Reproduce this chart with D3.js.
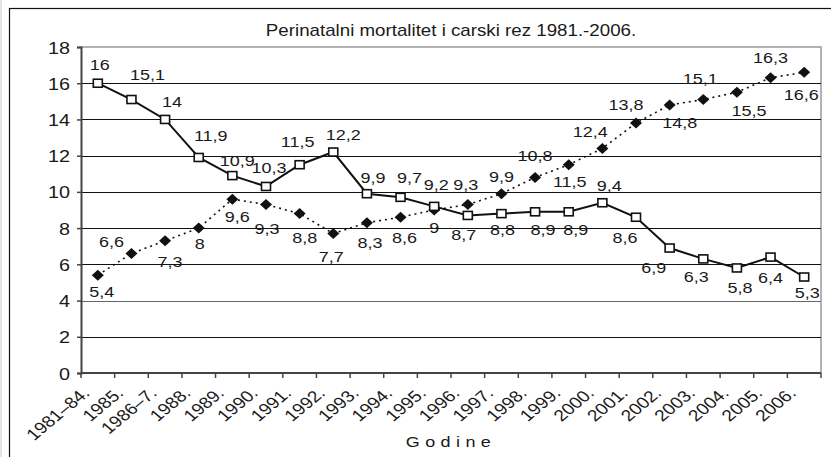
<!DOCTYPE html>
<html>
<head>
<meta charset="utf-8">
<script src="https://cdn.jsdelivr.net/npm/d3@7"></script>
<style>
  body { margin: 0; background: #fff; }
  text { font-family: "Liberation Sans", Arial, sans-serif; fill: #1a1a1a; }
</style>
</head>
<body>
<script>
// categories (years) and the two series
const godine = ["1981\u201384.", "1985.", "1986\u20137.", "1988.", "1989.", "1990.", "1991.", "1992.",
    "1993.", "1994.", "1995.", "1996.", "1997.", "1998.", "1999.", "2000.", "2001.", "2002.",
    "2003.", "2004.", "2005.", "2006."];
const perinatalni = [16, 15.1, 14, 11.9, 10.9, 10.3, 11.5, 12.2, 9.9, 9.7, 9.2, 8.7, 8.8, 8.9, 8.9,
    9.4, 8.6, 6.9, 6.3, 5.8, 6.4, 5.3];
const carskiRez = [5.4, 6.6, 7.3, 8, 9.6, 9.3, 8.8, 7.7, 8.3, 8.6, 9, 9.3, 9.9, 10.8, 11.5, 12.4,
    13.8, 14.8, 15.1, 15.5, 16.3, 16.6];
const yTicks = [0, 2, 4, 6, 8, 10, 12, 14, 16, 18];

// where each value label sits relative to its marker (centre dx, baseline dy)
const lab1Dx = [2, 16, 7, 12, 5, 3, -2, 10, 6, 9, 2, -4, 1, 8, 7, 7, -11, -16, -7, 3, 0, 3];
const lab1Dy = [-13, -20, -12, -16, -10, -13, -18, -12, -11, -14, -16, 25, 21, 23, 23, -12, 26, 25, 23, 25, 26, 21];
const lab2Dx = [4, -20, 5, 1, 5, 1, 5, -2, 3, 4, 0, -2, 0, 0, 1, -12, -10, 10, -3, 12, 0, -3];
const lab2Dy = [22, -6, 26, 21, 23, 29, 29, 28, 25, 26, 23, -15, -12, -16, 22, -11, -13, 23, -16, 24, -15, 28];

const W = 831, H = 457;
const sx = 1.2; // text in the picture is a bit wider than normal

const svg = d3.select("body").append("svg")
    .attr("width", W)
    .attr("height", H);

// outer frame
svg.append("rect").attr("x", 0).attr("y", 0).attr("width", 2).attr("height", H).attr("fill", "#e4e4e4");
svg.append("rect")
    .attr("x", 9.5).attr("y", 8.5)
    .attr("width", W + 20).attr("height", H + 20)
    .attr("fill", "none").attr("stroke", "#111").attr("stroke-width", 1.2);

const x = d3.scaleBand().domain(godine).range([81, 821]);
const y = d3.scaleLinear().domain([0, 18]).range([373, 47]);
const cx = d => x(d) + x.bandwidth() / 2;
const fmt = v => String(v).replace(".", ",");

// plot border (top + right, grey)
svg.append("path")
    .attr("d", `M81,${y(18)}H821V${y(0)}`)
    .attr("fill", "none").attr("stroke", "#999").attr("stroke-width", 1.5);

// gridlines
svg.selectAll("line.grid")
    .data(yTicks.filter(t => t > 0 && t < 18))
    .join("line")
    .attr("class", "grid")
    .attr("x1", 81).attr("x2", 821)
    .attr("y1", d => Math.round(y(d)) + 0.5).attr("y2", d => Math.round(y(d)) + 0.5)
    .attr("stroke", d => d === 4 ? "#666" : "#111").attr("stroke-width", 1);

// y axis
const yAxis = svg.append("g").attr("transform", "translate(81,0)")
    .call(d3.axisLeft(y).tickValues(yTicks).tickSize(4).tickFormat(d => d));
yAxis.select(".domain").attr("stroke", "#444").attr("stroke-width", 2);
yAxis.selectAll(".tick line").attr("stroke", "#444").attr("stroke-width", 1.5);
yAxis.selectAll(".tick text")
    .attr("x", null).attr("dy", null)
    .attr("font-size", 16.5)
    .attr("text-anchor", "end")
    .attr("transform", "translate(-11,6) scale(" + sx + ",1)");

// x axis with ticks at category boundaries
const xAxis = svg.append("g").attr("transform", `translate(0,${y(0)})`);
xAxis.append("line").attr("x1", 81).attr("x2", 821).attr("y1", 0).attr("y2", 0)
    .attr("stroke", "#444").attr("stroke-width", 2);
xAxis.selectAll("line.tk")
    .data(godine.map(d => x(d)).concat([821]))
    .join("line").attr("class", "tk")
    .attr("x1", d => d).attr("x2", d => d).attr("y1", 0).attr("y2", 5)
    .attr("stroke", "#444").attr("stroke-width", 1.5);
xAxis.selectAll("text")
    .data(godine)
    .join("text")
    .attr("font-size", 16)
    .attr("text-anchor", "end")
    .attr("transform", d => `translate(${cx(d) - 7},21) scale(${sx},1) rotate(-45)`)
    .text(d => d);

// axis title + chart title
svg.append("text")
    .attr("transform", "translate(451,447) scale(" + sx + ",1)")
    .attr("text-anchor", "middle").attr("font-size", 15)
    .attr("letter-spacing", 4.5)
    .text("Godine");
svg.append("text")
    .attr("transform", "translate(451,36) scale(1.17,1)")
    .attr("text-anchor", "middle").attr("font-size", 16)
    .text("Perinatalni mortalitet i carski rez 1981.-2006.");

// lines
const line = d3.line().x((d, i) => cx(godine[i])).y(d => y(d));
svg.append("path").datum(carskiRez)
    .attr("d", line).attr("fill", "none")
    .attr("stroke", "#111").attr("stroke-width", 1.6).attr("stroke-dasharray", "2,4");
svg.append("path").datum(perinatalni)
    .attr("d", line).attr("fill", "none")
    .attr("stroke", "#111").attr("stroke-width", 2);

// markers
svg.selectAll("path.dia")
    .data(carskiRez)
    .join("path").attr("class", "dia")
    .attr("d", "M0,-5.5L6,0L0,5.5L-6,0Z")
    .attr("transform", (d, i) => `translate(${cx(godine[i])},${y(d)})`)
    .attr("fill", "#111");
svg.selectAll("rect.sq")
    .data(perinatalni)
    .join("rect").attr("class", "sq")
    .attr("x", (d, i) => cx(godine[i]) - 4.5).attr("y", d => y(d) - 4)
    .attr("width", 9).attr("height", 8)
    .attr("fill", "#fff").attr("stroke", "#111").attr("stroke-width", 1.6);

// value labels
function labels(vals, dxs, dys, cls) {
    svg.selectAll("text." + cls)
        .data(vals)
        .join("text").attr("class", cls)
        .attr("font-size", 15)
        .attr("text-anchor", "middle")
        .attr("transform", (d, i) => `translate(${cx(godine[i]) + dxs[i]},${y(d) + dys[i]}) scale(${sx},1)`)
        .text(fmt);
}
labels(perinatalni, lab1Dx, lab1Dy, "l1");
labels(carskiRez, lab2Dx, lab2Dy, "l2");
</script>
</body>
</html>
